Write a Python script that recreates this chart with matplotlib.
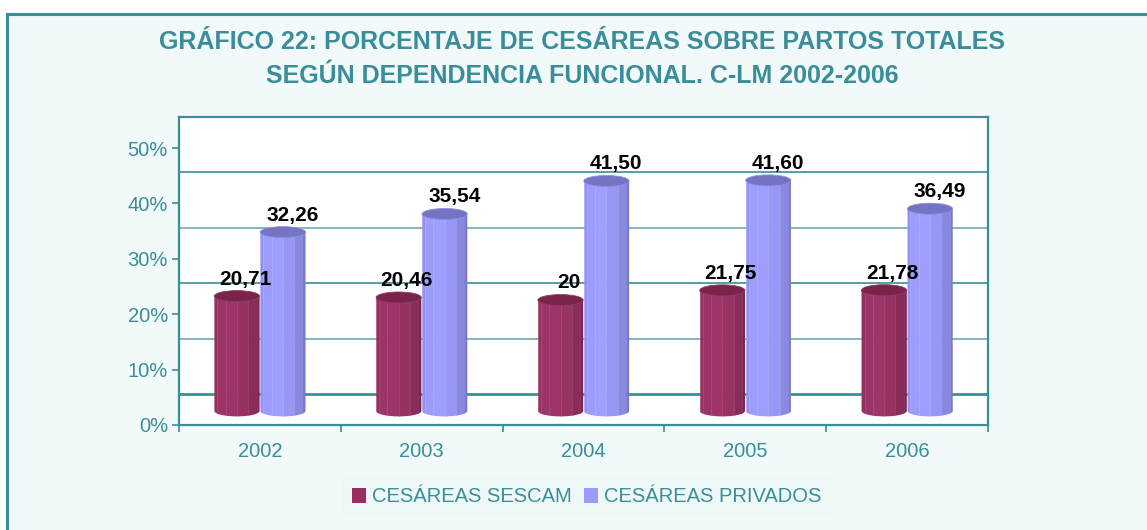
import matplotlib
matplotlib.use("Agg")
import matplotlib.pyplot as plt
from matplotlib.patches import Rectangle, Ellipse, Polygon
import numpy as np

# ---------------- data ----------------
years = ["2002", "2003", "2004", "2005", "2006"]
sescam = [20.71, 20.46, 20.00, 21.75, 21.78]
privados = [32.26, 35.54, 41.50, 41.60, 36.49]
sescam_labels = ["20,71", "20,46", "20", "21,75", "21,78"]
privados_labels = ["32,26", "35,54", "41,50", "41,60", "36,49"]
series_names = ["CESÁREAS SESCAM", "CESÁREAS PRIVADOS"]
yticks = [0, 10, 20, 30, 40, 50]
ytick_labels = ["0%", "10%", "20%", "30%", "40%", "50%"]
title_lines = ["GRÁFICO 22: PORCENTAJE DE CESÁREAS SOBRE PARTOS TOTALES",
               "SEGÚN DEPENDENCIA FUNCIONAL. C-LM 2002-2006"]

# ---------------- style ----------------
TEAL = "#3A8E9A"
BG = "#F1F9FB"
FONT = "Liberation Sans"
W, H = 1147, 530
DEPTH = 5.6      # back-wall offset (data units)
BASE = 2.55      # bar floor offset (data units)
BW = 0.28        # bar width
EH = 2.0         # ellipse height (data units)

sescam_style = dict(light=np.array([0.62, 0.21, 0.41]), dark=np.array([0.47, 0.14, 0.30]),
                    top="#7A2449", handle="#992D5F")
priv_style = dict(light=np.array([0.62, 0.62, 1.00]), dark=np.array([0.47, 0.47, 0.79]),
                  top="#7474C2", handle="#9C9CFF")

fig = plt.figure(figsize=(W / 100, H / 100), dpi=100)
fig.patch.set_facecolor("white")
# outer chart area with teal border (top and left visible)
fig.patches.append(Rectangle((7 / W, -0.1), 1.2, 1 - 14 / H + 0.1, transform=fig.transFigure,
                             facecolor=BG, edgecolor=TEAL, linewidth=2.2, zorder=-10))

ax = fig.add_axes([179 / W, (H - 425) / H, (988 - 179) / W, (425 - 117) / H])
ax.set_zorder(2)
ax.set_facecolor("white")
ax.set_xlim(0, 5)
ax.set_ylim(0, 50 + DEPTH)
for s in ax.spines.values():
    s.set_color(TEAL)
    s.set_linewidth(1.6)

# back-wall gridlines
for v in yticks[:-1]:
    ax.axhline(v + DEPTH, color=TEAL, lw=2.0 if v == 0 else 1.2,
               alpha=1.0 if v in (0, 20, 40) else 0.75, zorder=1)

# y axis
ax.set_yticks(yticks)
ax.set_yticklabels(ytick_labels)
ax.tick_params(axis="y", direction="out", length=5, width=1.2, color=TEAL, labelcolor=TEAL,
               labelsize=14.5, pad=3)
# x axis: boundary ticks, centered labels
ax.set_xticks(np.arange(0, 6))
ax.set_xticklabels([])
ax.set_xticks(np.arange(len(years)) + 0.5, minor=True)
ax.set_xticklabels(years, minor=True)
ax.tick_params(axis="x", which="major", direction="out", length=5, width=1.2, color=TEAL)
ax.tick_params(axis="x", which="minor", length=0, labelcolor=TEAL, labelsize=14.5, pad=12)
for lbl in ax.get_xticklabels(minor=True) + ax.get_yticklabels():
    lbl.set_fontfamily(FONT)


def cylinder(cx, val, st, z):
    top = BASE + val
    # clip shape: body + lower half ellipse
    t = np.linspace(np.pi, 2 * np.pi, 40)
    pts = [(cx - BW / 2, top)]
    pts += list(zip(cx + BW / 2 * np.cos(t), BASE + EH / 2 * np.sin(t)))
    pts += [(cx + BW / 2, top)]
    clip = Polygon(pts, closed=True, transform=ax.transData, facecolor="none", edgecolor="none")
    ax.add_patch(clip)
    n = 6
    angs = np.linspace(np.pi, 0, n + 1)
    xs = np.cos(angs)
    for k in range(n):
        xl, xr = xs[k], xs[k + 1]
        mid = 0.5 * (angs[k] + angs[k + 1])
        # light from front-left
        f = np.cos(mid - 2.0)
        f = np.clip((f + 0.2) / 1.2, 0, 1)
        col = st["dark"] + (st["light"] - st["dark"]) * f
        b = ax.bar(cx + (xl + xr) / 2 * BW / 2, val + EH, width=(xr - xl) * BW / 2,
                   bottom=BASE - EH, color=col, edgecolor=tuple(np.clip(col + 0.05, 0, 1)),
                   linewidth=0.4, zorder=z)
        for p in b:
            p.set_clip_path(clip)
    ax.add_patch(Ellipse((cx, top), BW, EH, facecolor=st["top"],
                         edgecolor=tuple(np.clip(st["dark"] + 0.1, 0, 1)),
                         linewidth=0.6, zorder=z + 0.5))


for i in range(len(years)):
    cx = i + 0.5
    cylinder(cx - 0.142, sescam[i], sescam_style, 3)
    cylinder(cx + 0.142, privados[i], priv_style, 4)
    ax.text(cx - 0.142 + 0.05, BASE + sescam[i] + EH / 2 + 1.1, sescam_labels[i], ha="center",
            va="baseline", fontsize=15, fontweight="bold", family=FONT, color="black", zorder=10)
    ax.text(cx + 0.142 + 0.06, BASE + privados[i] + EH / 2 + 1.1, privados_labels[i], ha="center",
            va="baseline", fontsize=15, fontweight="bold", family=FONT, color="black", zorder=10)

# title
fig.text(582 / W, 1 - 42 / H, title_lines[0], ha="center", va="center", fontsize=18,
         fontweight="bold", family=FONT, color=TEAL)
fig.text(582 / W, 1 - 76 / H, title_lines[1], ha="center", va="center", fontsize=18,
         fontweight="bold", family=FONT, color=TEAL)

# legend
handles = [Rectangle((0, 0), 1, 1, facecolor=sescam_style["handle"], edgecolor="none"),
           Rectangle((0, 0), 1, 1, facecolor=priv_style["handle"], edgecolor="none")]
leg = fig.legend(handles, series_names, loc="center", bbox_to_anchor=(587 / W, 1 - 497 / H), ncol=2,
                 frameon=True, handlelength=0.7, handleheight=0.7, handletextpad=0.3,
                 columnspacing=0.6, borderpad=0.5, prop={"family": FONT, "size": 14.5})
leg.get_frame().set_facecolor("#EEF9F7")
leg.get_frame().set_edgecolor("none")
for t in leg.get_texts():
    t.set_color(TEAL)

fig.savefig("out.png", dpi=100, facecolor=fig.get_facecolor())
